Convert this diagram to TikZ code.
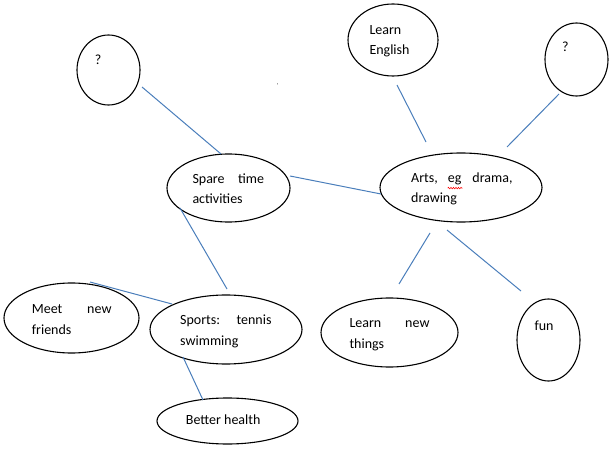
\documentclass[tikz,border=0pt]{standalone}
\usepackage{fontspec}
\setmainfont{Carlito}
\usetikzlibrary{shapes.geometric,decorations.pathmorphing}
\tikzset{
  ell/.style={draw=black, line width=1.1pt, ellipse, inner sep=0pt},
  link/.style={draw=linkblue, line width=1pt},
  lbl/.style={inner sep=0pt, font=\fontsize{14}{16}\selectfont, text=black},
}
\definecolor{linkblue}{HTML}{4A7EBB}
\begin{document}
\begin{tikzpicture}[x=1pt,y=-1pt]
\useasboundingbox (0,0) rectangle (613,449);
% ellipses
\node[ell, minimum width=63pt, minimum height=70pt] (q1) at (108.5,70) {};
\node[ell, minimum width=123pt, minimum height=68pt] (spare) at (228.5,188) {};
\node[ell, minimum width=90pt, minimum height=72pt] (english) at (393,40) {};
\node[ell, minimum width=63pt, minimum height=73pt] (q2) at (576.5,59.5) {};
\node[ell, minimum width=162pt, minimum height=69pt] (arts) at (461,187.5) {};
\node[ell, minimum width=137pt, minimum height=69pt] (learnnew) at (389.5,332.5) {};
\node[ell, minimum width=63pt, minimum height=82pt] (fun) at (548.5,340) {};
\node[ell, minimum width=135pt, minimum height=70pt] (meet) at (71.5,318) {};
\node[ell, minimum width=152pt, minimum height=69pt] (sports) at (226,329.5) {};
\node[ell, minimum width=141pt, minimum height=46pt] (health) at (227.5,421) {};
% connector end points
\coordinate (a1) at (142,87);   \coordinate (a2) at (221,154);
\coordinate (b1) at (290,176);  \coordinate (b2) at (381,194);
\coordinate (c1) at (397,85);   \coordinate (c2) at (426,142);
\coordinate (d1) at (559,94);   \coordinate (d2) at (507,147);
\coordinate (e1) at (430,233);  \coordinate (e2) at (399,284);
\coordinate (f1) at (447,230);  \coordinate (f2) at (521,291);
\coordinate (g1) at (180,208);  \coordinate (g2) at (227,289);
\coordinate (h1) at (90,282);   \coordinate (h2) at (172,304);
\coordinate (i1) at (183,357);  \coordinate (i2) at (203,400);
\draw[link] (a1) -- (a2);
\draw[link] (b1) -- (b2);
\draw[link] (c1) -- (c2);
\draw[link] (d1) -- (d2);
\draw[link] (e1) -- (e2);
\draw[link] (f1) -- (f2);
\draw[link] (g1) -- (g2);
\draw[link] (h1) -- (h2);
\draw[link] (i1) -- (i2);
% texts
\node[lbl, anchor=base west] (t1) at (94.7,65) {?};
\node[lbl, anchor=base west] (t2) at (192.3,184) {Spare};
\node[lbl, anchor=base east] (t3) at (264.3,184) {time};
\node[lbl, anchor=base west] (t4) at (192.3,204) {activities};
\node[lbl, anchor=base west] (t5) at (369.3,34.3) {Learn};
\node[lbl, anchor=base west] (t6) at (369.3,55) {English};
\node[lbl, anchor=base west] (t7) at (562,51.7) {?};
\node[lbl, anchor=base west] (t8) at (411,183) {Arts,};
\node[lbl, anchor=base west] (t9) at (447.7,183) {eg};
\node[lbl, anchor=base east] (t10) at (512.7,183) {drama,};
\node[lbl, anchor=base west] (t11) at (411,203) {drawing};
\node[lbl, anchor=base west] (t12) at (31.7,313.3) {Meet};
\node[lbl, anchor=base east] (t13) at (111.7,313.3) {new};
\node[lbl, anchor=base west] (t14) at (31.7,334) {friends};
\node[lbl, anchor=base west] (t15) at (180,324) {Sports:};
\node[lbl, anchor=base east] (t16) at (271.7,324) {tennis};
\node[lbl, anchor=base west] (t17) at (180,345) {swimming};
\node[lbl, anchor=base west] (t18) at (185.7,424) {Better health};
\node[lbl, anchor=base west] (t19) at (349.3,327.3) {Learn};
\node[lbl, anchor=base east] (t20) at (429.7,327.3) {new};
\node[lbl, anchor=base west] (t21) at (349.3,348) {things};
\node[lbl, anchor=base west] (t22) at (534.3,330) {fun};
\node[inner sep=0pt, font=\fontsize{6}{6}\selectfont] (comma) at (277.5,85) {,};
% spell-check squiggle under "eg"
\draw[red, line width=0.6pt, decorate, decoration={snake, amplitude=0.7pt, segment length=2.5pt}] (t9.south west) ++(0,2.5) -- ++(15,0);
\end{tikzpicture}
\end{document}
